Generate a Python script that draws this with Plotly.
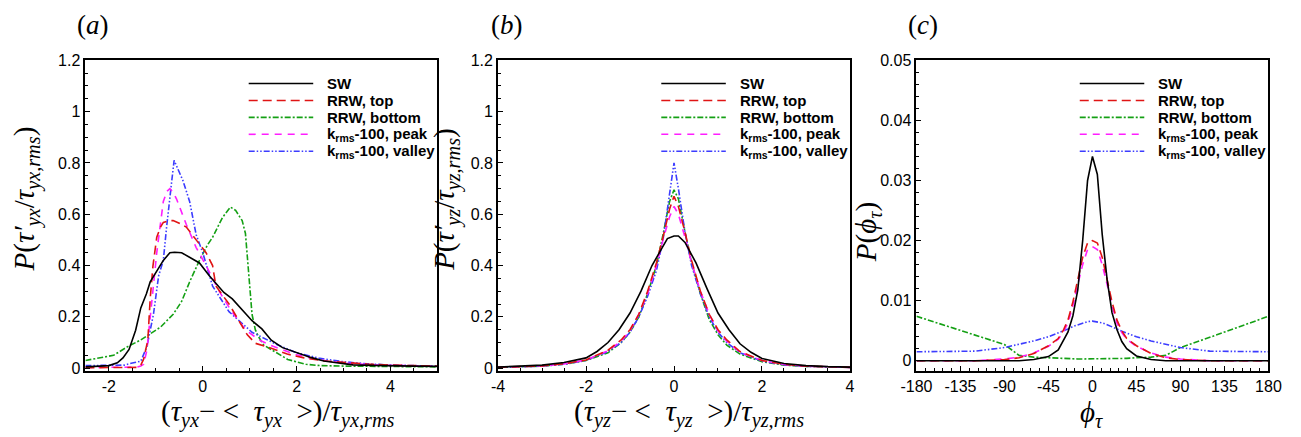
import plotly.graph_objects as go

W, H = 1301, 437

# ---------------- data ----------------
series_names = ["SW", "RRW, top", "RRW, bottom", "k<sub>rms</sub>-100, peak", "k<sub>rms</sub>-100, valley"]
colors = ["#000000", "#e01414", "#14a014", "#ff1eff", "#3c3cff"]
dashes = ["solid", "9px,5px", "6px,2px,2px,2px", "7px,6px", "6px,2px,1.5px,2px,1.5px,2px"]

# panel (a)
a_sw_x = [-2.5, -2.2, -2.0, -1.82, -1.7, -1.57, -1.43, -1.32, -1.2, -1.12, -0.98, -0.84, -0.7, -0.6, -0.45, -0.3, -0.07, 0.14, 0.3, 0.45, 0.63, 0.85, 1.05, 1.26, 1.46, 1.7, 2.02, 2.3, 2.58, 2.9, 3.2, 3.6, 4.0, 4.5, 5.0]
a_sw_y = [0.005, 0.007, 0.01, 0.021, 0.04, 0.073, 0.148, 0.235, 0.29, 0.336, 0.38, 0.42, 0.45, 0.452, 0.45, 0.435, 0.41, 0.36, 0.325, 0.295, 0.27, 0.225, 0.185, 0.153, 0.109, 0.08, 0.059, 0.042, 0.028, 0.019, 0.013, 0.011, 0.009, 0.008, 0.007]

a_top_x = [-2.5, -2.0, -1.6, -1.4, -1.32, -1.26, -1.17, -1.12, -1.06, -0.98, -0.9, -0.84, -0.7, -0.63, -0.5, -0.35, -0.14, 0.07, 0.21, 0.28, 0.42, 0.56, 0.77, 0.95, 1.12, 1.3, 1.46, 1.8, 2.16, 2.6, 3.0, 3.5, 4.0, 4.5, 5.0]
a_top_y = [0.002, 0.002, 0.002, 0.003, 0.012, 0.035, 0.109, 0.27, 0.40, 0.51, 0.55, 0.568, 0.575, 0.575, 0.565, 0.55, 0.50, 0.45, 0.40, 0.32, 0.285, 0.25, 0.185, 0.13, 0.097, 0.088, 0.078, 0.055, 0.04, 0.028, 0.022, 0.016, 0.012, 0.01, 0.008]

a_bot_x = [-2.5, -2.2, -1.9, -1.6, -1.32, -1.12, -0.9, -0.63, -0.45, -0.28, -0.07, 0.1, 0.21, 0.42, 0.59, 0.7, 0.84, 0.91, 0.98, 1.05, 1.12, 1.19, 1.3, 1.46, 1.81, 2.2, 2.5, 3.0, 4.0, 5.0]
a_bot_y = [0.03, 0.04, 0.05, 0.084, 0.11, 0.134, 0.16, 0.21, 0.26, 0.336, 0.42, 0.48, 0.51, 0.587, 0.628, 0.615, 0.575, 0.525, 0.38, 0.21, 0.15, 0.122, 0.09, 0.072, 0.034, 0.015, 0.01, 0.008, 0.006, 0.005]

a_peak_x = [-2.5, -2.0, -1.6, -1.4, -1.32, -1.26, -1.19, -1.12, -1.05, -0.98, -0.91, -0.84, -0.76, -0.7, -0.63, -0.56, -0.35, -0.14, 0.07, 0.35, 0.6, 0.91, 1.2, 1.5, 2.0, 2.5, 3.0, 3.5, 4.0, 4.5, 5.0]
a_peak_y = [0.003, 0.003, 0.003, 0.004, 0.008, 0.015, 0.07, 0.20, 0.336, 0.45, 0.55, 0.65, 0.69, 0.70, 0.685, 0.66, 0.56, 0.47, 0.40, 0.30, 0.225, 0.15, 0.11, 0.085, 0.052, 0.032, 0.02, 0.014, 0.011, 0.009, 0.008]

a_val_x = [-2.5, -2.0, -1.67, -1.5, -1.32, -1.19, -1.05, -0.94, -0.84, -0.77, -0.7, -0.66, -0.61, -0.56, -0.42, -0.28, -0.14, 0.0, 0.21, 0.56, 1.05, 1.6, 2.0, 2.5, 3.0, 3.5, 4.0, 4.5, 5.0]
a_val_y = [0.01, 0.01, 0.012, 0.02, 0.027, 0.084, 0.21, 0.36, 0.42, 0.55, 0.65, 0.73, 0.81, 0.79, 0.73, 0.65, 0.52, 0.45, 0.32, 0.22, 0.14, 0.09, 0.06, 0.038, 0.025, 0.017, 0.012, 0.01, 0.008]

# panel (b)
b_sw_x = [-4, -3.5, -3, -2.5, -2, -1.75, -1.5, -1.25, -1, -0.75, -0.5, -0.3, -0.15, 0, 0.1, 0.25, 0.5, 0.75, 1, 1.25, 1.5, 1.75, 2, 2.5, 3, 3.5, 4]
b_sw_y = [0.004, 0.007, 0.012, 0.022, 0.04, 0.065, 0.10, 0.15, 0.215, 0.30, 0.40, 0.46, 0.505, 0.515, 0.515, 0.49, 0.41, 0.31, 0.215, 0.15, 0.095, 0.062, 0.038, 0.018, 0.01, 0.006, 0.004]

b_x = [-4, -3, -2.5, -2, -1.5, -1.2, -1, -0.8, -0.6, -0.4, -0.25, -0.1, 0, 0.1, 0.25, 0.4, 0.6, 0.8, 1, 1.2, 1.5, 2, 2.5, 3, 4]
b_top_y = [0.003, 0.009, 0.017, 0.032, 0.07, 0.11, 0.15, 0.21, 0.30, 0.41, 0.51, 0.62, 0.67, 0.63, 0.53, 0.42, 0.30, 0.21, 0.15, 0.11, 0.065, 0.03, 0.015, 0.008, 0.003]
b_bot_y = [0.003, 0.008, 0.015, 0.03, 0.06, 0.10, 0.14, 0.20, 0.29, 0.40, 0.52, 0.65, 0.695, 0.66, 0.53, 0.41, 0.29, 0.19, 0.13, 0.09, 0.055, 0.025, 0.012, 0.007, 0.003]
b_peak_y = [0.003, 0.009, 0.016, 0.032, 0.068, 0.105, 0.145, 0.21, 0.29, 0.40, 0.50, 0.59, 0.63, 0.60, 0.51, 0.41, 0.30, 0.21, 0.145, 0.105, 0.062, 0.03, 0.014, 0.008, 0.003]
b_val_y = [0.003, 0.008, 0.015, 0.03, 0.065, 0.10, 0.14, 0.20, 0.28, 0.38, 0.50, 0.68, 0.80, 0.70, 0.53, 0.40, 0.29, 0.20, 0.14, 0.10, 0.06, 0.028, 0.013, 0.007, 0.003]

# panel (c)
c_x = [-180, -150, -120, -90, -75, -60, -45, -35, -30, -25, -20, -15, -10, -5, 0, 5, 10, 15, 20, 25, 30, 35, 45, 60, 75, 90, 120, 150, 180]
c_sw_y = [0, 0, 0, 0, 0, 0.0002, 0.0007, 0.0018, 0.0032, 0.0048, 0.0075, 0.0118, 0.020, 0.030, 0.034, 0.031, 0.021, 0.0135, 0.008, 0.0052, 0.0032, 0.002, 0.0008, 0.0002, 0, 0, 0, 0, 0]
c_top_y = [0, 0, 0, 0.0002, 0.0005, 0.0012, 0.0025, 0.0037, 0.005, 0.0068, 0.0098, 0.0135, 0.0172, 0.0196, 0.020, 0.0196, 0.0172, 0.0135, 0.0098, 0.0068, 0.005, 0.0037, 0.0025, 0.0012, 0.0005, 0.0002, 0, 0, 0]
c_bot_y = [0.0074, 0.0058, 0.0043, 0.0027, 0.0009, 0.0006, 0.0005, 0.0004, 0.0004, 0.0004, 0.0003, 0.0003, 0.0003, 0.0003, 0.0003, 0.0003, 0.0003, 0.0003, 0.0003, 0.0004, 0.0004, 0.0004, 0.0005, 0.0006, 0.0009, 0.0022, 0.0039, 0.0057, 0.0074]
c_peak_y = [0, 0, 0, 0.0003, 0.0006, 0.0013, 0.0024, 0.0036, 0.0047, 0.0063, 0.0092, 0.0127, 0.016, 0.0185, 0.019, 0.0185, 0.016, 0.0127, 0.0092, 0.0063, 0.0047, 0.0036, 0.0024, 0.0013, 0.0006, 0.0003, 0, 0, 0]
c_val_y = [0.0015, 0.0015, 0.0016, 0.0022, 0.0027, 0.0033, 0.0040, 0.0046, 0.0049, 0.0053, 0.0057, 0.006, 0.0063, 0.0065, 0.0066, 0.0065, 0.0063, 0.006, 0.0057, 0.0053, 0.0049, 0.0046, 0.0040, 0.0033, 0.0027, 0.0022, 0.0016, 0.0015, 0.0015]

# ticks
a_xticks = [-2, 0, 2, 4]
a_xticklabels = ["-2", "0", "2", "4"]
b_xticks = [-4, -2, 0, 2, 4]
b_xticklabels = ["-4", "-2", "0", "2", "4"]
c_xticks = [-180, -135, -90, -45, 0, 45, 90, 135, 180]
c_xticklabels = ["-180", "-135", "-90", "-45", "0", "45", "90", "135", "180"]
ab_yticks = [0, 0.2, 0.4, 0.6, 0.8, 1.0, 1.2]
ab_yticklabels = ["0", "0.2", "0.4", "0.6", "0.8", "1", "1.2"]
c_yticks = [0, 0.01, 0.02, 0.03, 0.04, 0.05]
c_yticklabels = ["0", "0.01", "0.02", "0.03", "0.04", "0.05"]

panel_labels = ["(<i>a</i>)", "(<i>b</i>)", "(<i>c</i>)"]
x_titles = [
    "(<i>τ<sub>yx</sub></i>− <  <i>τ<sub>yx</sub></i>  >)/<i>τ<sub>yx,rms</sub></i>",
    "(<i>τ<sub>yz</sub></i>− <  <i>τ<sub>yz</sub></i>  >)/<i>τ<sub>yz,rms</sub></i>",
    "<i>ϕ<sub>τ</sub></i>",
]
y_titles = [
    "<i>P</i>(<i>τ′<sub>yx</sub></i>/<i>τ<sub>yx,rms</sub></i>)",
    "<i>P</i>(<i>τ′<sub>yz</sub></i>/<i>τ<sub>yz,rms</sub></i>)",
    "<i>P</i>(<i>ϕ<sub>τ</sub></i>)",
]

# ---------------- figure ----------------
fig = go.Figure()

panels = [
    ("x", "y", [(a_sw_x, a_sw_y), (a_top_x, a_top_y), (a_bot_x, a_bot_y), (a_peak_x, a_peak_y), (a_val_x, a_val_y)]),
    ("x2", "y2", [(b_sw_x, b_sw_y), (b_x, b_top_y), (b_x, b_bot_y), (b_x, b_peak_y), (b_x, b_val_y)]),
    ("x3", "y3", [(c_x, c_sw_y), (c_x, c_top_y), (c_x, c_bot_y), (c_x, c_peak_y), (c_x, c_val_y)]),
]
for xa, ya, data in panels:
    for i in [2, 4, 3, 1, 0]:
        xs, ys = data[i]
        fig.add_trace(go.Scatter(x=xs, y=ys, mode="lines", xaxis=xa, yaxis=ya,
                                 line=dict(color=colors[i], width=1.6, dash=dashes[i]),
                                 name=series_names[i], showlegend=False))

def px_x(p):
    return p / W

def px_y(p):
    return (H - p) / H

plot_lr = [(71, 431), (493, 853), (921, 1281)]
top_px, bot_px = 54, 375
ydom = [px_y(bot_px), px_y(top_px)]

tickfont = dict(family="Liberation Sans, Arial, sans-serif", size=16, color="black")

def axis_common():
    return dict(showgrid=False, zeroline=False, showline=True, linecolor="black", linewidth=1.8,
                mirror=True, ticks="inside", ticklen=5, tickwidth=1.2, tickcolor="black",
                tickfont=tickfont, tickmode="array")

xranges = [[-2.5, 5], [-4, 4], [-180, 180]]
yranges = [[-0.011, 1.2], [-0.011, 1.2], [-0.0017, 0.05]]
xtv = [(a_xticks, a_xticklabels), (b_xticks, b_xticklabels), (c_xticks, c_xticklabels)]
ytv = [(ab_yticks, ab_yticklabels), (ab_yticks, ab_yticklabels), (c_yticks, c_yticklabels)]
xminor = [0.5, 0.5, 9]
yminor = [0.05, 0.05, 0.002]

lay = {}
for k in range(3):
    sx = "" if k == 0 else str(k + 1)
    xa = axis_common()
    xa.update(domain=[px_x(plot_lr[k][0]), px_x(plot_lr[k][1])], range=xranges[k],
              anchor="y" + sx, tickvals=xtv[k][0], ticktext=xtv[k][1],
              minor=dict(tickmode="linear", tick0=0, dtick=xminor[k], ticks="inside", ticklen=3,
                         tickcolor="black", tickwidth=1, showgrid=False))
    ya = axis_common()
    ya.update(domain=ydom, range=yranges[k], anchor="x" + sx, tickvals=ytv[k][0], ticktext=ytv[k][1],
              minor=dict(tickmode="linear", tick0=0, dtick=yminor[k], ticks="inside", ticklen=3,
                         tickcolor="black", tickwidth=1, showgrid=False))
    lay["xaxis" + sx] = xa
    lay["yaxis" + sx] = ya

fig.update_layout(**lay)

annotations = []
shapes = []
serif = "Liberation Serif, Times New Roman, serif"
panel_label_x = [79, 502, 928]
xtitle_x = [268, 688, 1100]
ytitle_x = [11, 440, 871]
ytitle_y = [197, 198, 232]
for k in range(3):
    annotations.append(dict(x=px_x(panel_label_x[k]), y=px_y(18), xref="paper", yref="paper",
                            text=panel_labels[k], showarrow=False, xanchor="center", yanchor="middle",
                            font=dict(family=serif, size=27, color="black")))
    annotations.append(dict(x=px_x(xtitle_x[k]), y=px_y(419), xref="paper", yref="paper",
                            text=x_titles[k], showarrow=False, xanchor="center", yanchor="middle",
                            font=dict(family=serif, size=29, color="black")))
    annotations.append(dict(x=px_x(ytitle_x[k]), y=px_y(ytitle_y[k]), xref="paper", yref="paper",
                            text=y_titles[k], showarrow=False, xanchor="center", yanchor="middle",
                            textangle=-90, font=dict(family=serif, size=29, color="black")))
    # legend
    left = plot_lr[k][0]
    for i in range(5):
        ry = 78 + i * 17.5
        shapes.append(dict(type="line", xref="paper", yref="paper",
                           x0=px_x(left + 167), x1=px_x(left + 233), y0=px_y(ry), y1=px_y(ry),
                           line=dict(color=colors[i], width=1.6, dash=dashes[i])))
        annotations.append(dict(x=px_x(left + 245), y=px_y(ry), xref="paper", yref="paper",
                                text="<b>" + series_names[i] + "</b>", showarrow=False,
                                xanchor="left", yanchor="middle",
                                font=dict(family="Liberation Sans, Arial, sans-serif", size=15, color="black")))

fig.update_layout(annotations=annotations, shapes=shapes, width=W, height=H,
                  margin=dict(l=0, r=0, t=0, b=0), paper_bgcolor="white", plot_bgcolor="white",
                  showlegend=False)

fig.write_html("out.html")
